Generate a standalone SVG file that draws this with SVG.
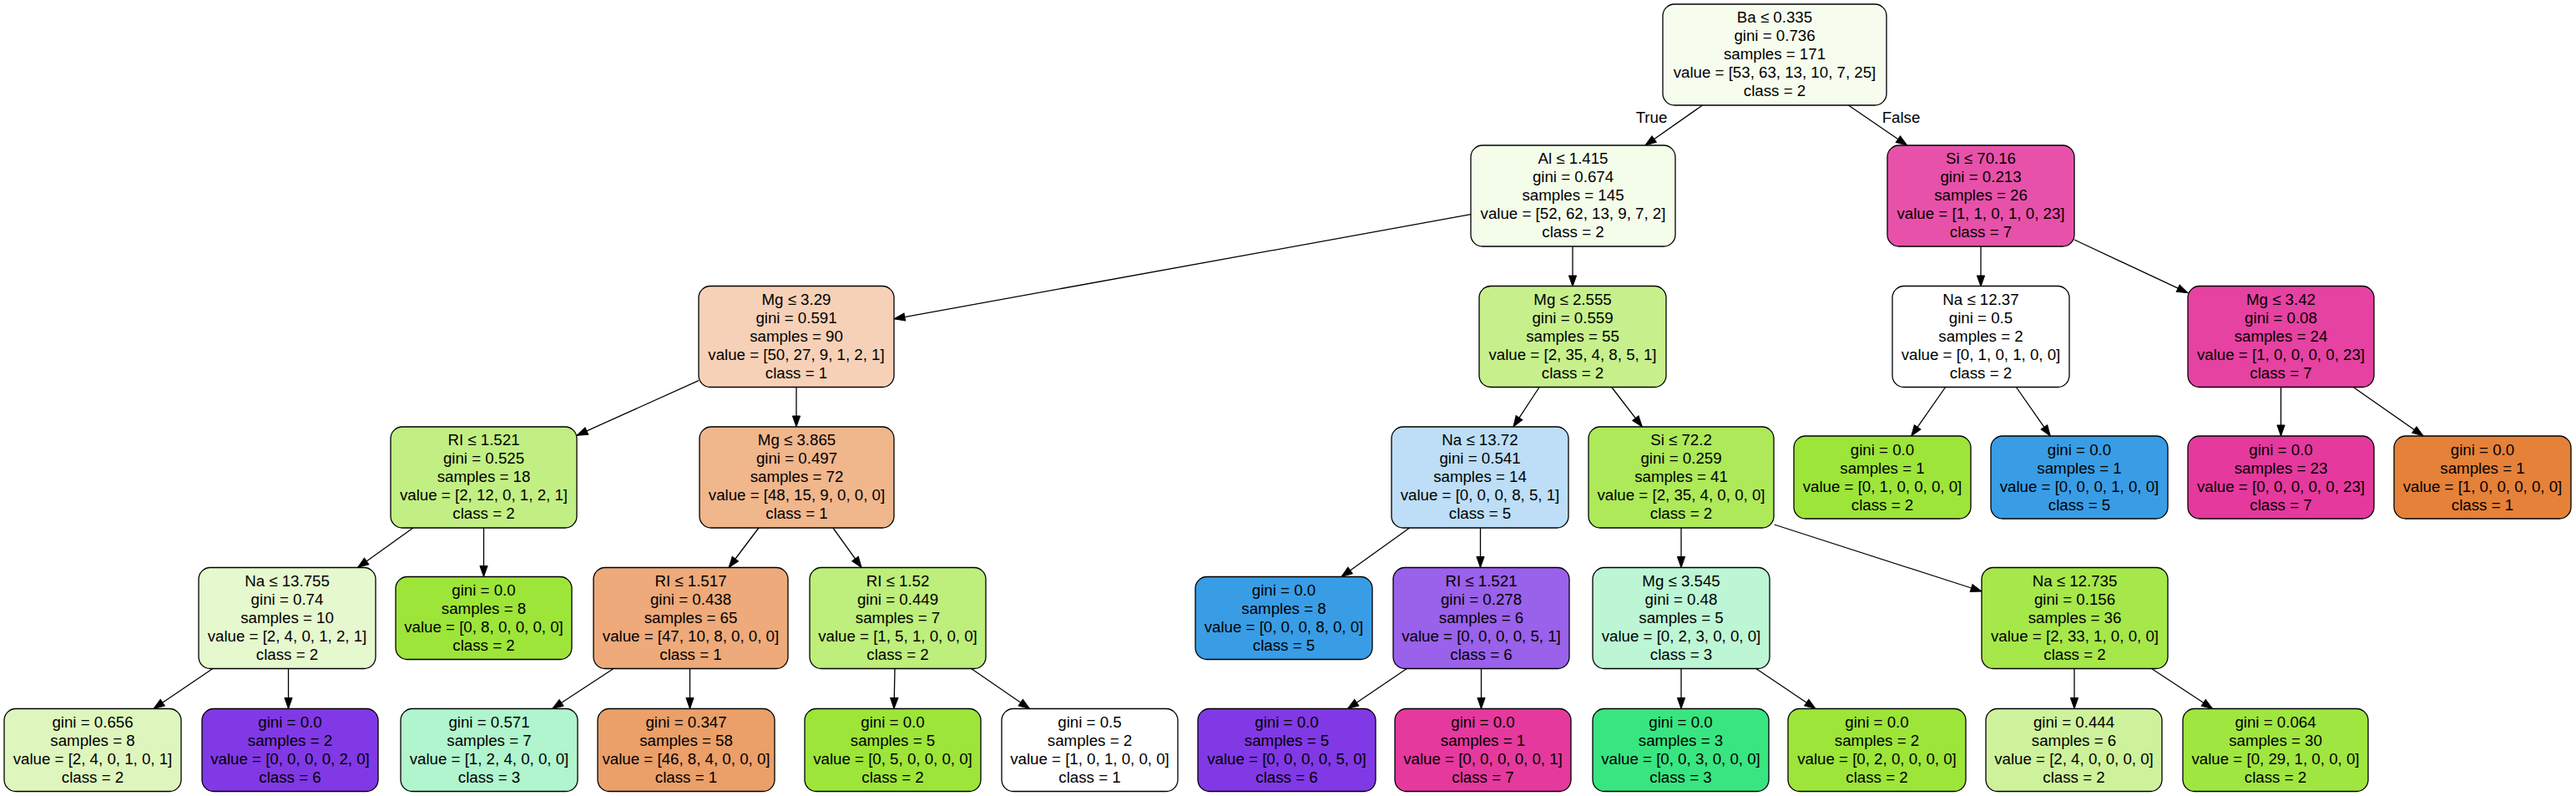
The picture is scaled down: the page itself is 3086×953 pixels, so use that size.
<svg xmlns="http://www.w3.org/2000/svg" width="3086" height="953" viewBox="0 0 3086 953">
<style>
  .n rect { stroke: #000; stroke-width: 1.3; }
  text { font-family: "Liberation Sans", Arial, Helvetica, sans-serif; font-size: 18.7px; fill: #000; text-anchor: middle; }
  .e path { fill: none; stroke: #000; stroke-width: 1.3; }
</style>
<defs>
  <marker id="ah" markerUnits="userSpaceOnUse" markerWidth="16" markerHeight="12" refX="13" refY="4.6" orient="auto" overflow="visible">
    <path d="M0,0 L13,4.6 L0,9.2 z" fill="#000" stroke="#000" stroke-width="1"/>
  </marker>
</defs>
<rect width="3086" height="953" fill="#fff"/>

<g id="edges" class="e">
  <path marker-end="url(#ah)" d="M2039.5,126 L1971,174"/>
  <path marker-end="url(#ah)" d="M2214.4,126 L2284.6,174"/>
  <path marker-end="url(#ah)" d="M1762,256.7 L1071,381.8"/>
  <path marker-end="url(#ah)" d="M1884,295 L1884,343"/>
  <path marker-end="url(#ah)" d="M2373,295 L2373,343"/>
  <path marker-end="url(#ah)" d="M2485,287 L2621,350.7"/>
  <path marker-end="url(#ah)" d="M837,455.6 L691,521.3"/>
  <path marker-end="url(#ah)" d="M954,463.5 L954,511"/>
  <path marker-end="url(#ah)" d="M1844.1,463.5 L1812.9,511"/>
  <path marker-end="url(#ah)" d="M1930.7,463.5 L1967.3,511"/>
  <path marker-end="url(#ah)" d="M2330.6,463.5 L2289.7,522"/>
  <path marker-end="url(#ah)" d="M2415.4,463.5 L2456.3,522"/>
  <path marker-end="url(#ah)" d="M2732.5,463.5 L2732.5,522"/>
  <path marker-end="url(#ah)" d="M2819.2,463.5 L2903,522"/>
  <path marker-end="url(#ah)" d="M494.9,632 L428.6,679.5"/>
  <path marker-end="url(#ah)" d="M579.5,632 L579.5,690.5"/>
  <path marker-end="url(#ah)" d="M908.9,632 L873.1,679.5"/>
  <path marker-end="url(#ah)" d="M997.9,632 L1032.1,679.5"/>
  <path marker-end="url(#ah)" d="M1688.6,632 L1607,690.5"/>
  <path marker-end="url(#ah)" d="M1773.5,632 L1773.5,679.5"/>
  <path marker-end="url(#ah)" d="M2014,632 L2014,679.5"/>
  <path marker-end="url(#ah)" d="M2125.5,628 L2374,708"/>
  <path marker-end="url(#ah)" d="M254.8,800.5 L184,848.5"/>
  <path marker-end="url(#ah)" d="M345.5,800.5 L345.5,848.5"/>
  <path marker-end="url(#ah)" d="M735,800.5 L661.7,848.5"/>
  <path marker-end="url(#ah)" d="M826.5,800.5 L826.5,848.5"/>
  <path marker-end="url(#ah)" d="M1072,800.5 L1071,848.5"/>
  <path marker-end="url(#ah)" d="M1163.6,800.5 L1233.4,848.5"/>
  <path marker-end="url(#ah)" d="M1685.3,800.5 L1614.5,848.5"/>
  <path marker-end="url(#ah)" d="M1774.5,800.5 L1774.5,848.5"/>
  <path marker-end="url(#ah)" d="M2014,800.5 L2014,848.5"/>
  <path marker-end="url(#ah)" d="M2103.8,800.5 L2175,848.5"/>
  <path marker-end="url(#ah)" d="M2485,800.5 L2485,848.5"/>
  <path marker-end="url(#ah)" d="M2577.6,800.5 L2650.6,848.5"/>
  <text x="1978.5" y="147">True</text>
  <text x="2277.5" y="147">False</text>
</g>

<g id="n0" class="n"><rect x="1992" y="5" width="268" height="121" rx="14" fill="#f7fdee"/>
<text x="2126" y="27.1"><tspan x="2126">Ba ≤ 0.335</tspan><tspan x="2126" dy="22">gini = 0.736</tspan><tspan x="2126" dy="22">samples = 171</tspan><tspan x="2126" dy="22">value = [53, 63, 13, 10, 7, 25]</tspan><tspan x="2126" dy="22">class = 2</tspan></text></g>

<g id="n1" class="n"><rect x="1762" y="174" width="245" height="121" rx="14" fill="#f4fcea"/>
<text x="1884.5" y="196.1"><tspan x="1884.5">Al ≤ 1.415</tspan><tspan x="1884.5" dy="22">gini = 0.674</tspan><tspan x="1884.5" dy="22">samples = 145</tspan><tspan x="1884.5" dy="22">value = [52, 62, 13, 9, 7, 2]</tspan><tspan x="1884.5" dy="22">class = 2</tspan></text></g>

<g id="n2" class="n"><rect x="2261" y="174" width="224" height="121" rx="14" fill="#e851a9"/>
<text x="2373" y="196.1"><tspan x="2373">Si ≤ 70.16</tspan><tspan x="2373" dy="22">gini = 0.213</tspan><tspan x="2373" dy="22">samples = 26</tspan><tspan x="2373" dy="22">value = [1, 1, 0, 1, 0, 23]</tspan><tspan x="2373" dy="22">class = 7</tspan></text></g>

<g id="n3" class="n"><rect x="837" y="342.5" width="234" height="121" rx="14" fill="#f6d1b7"/>
<text x="954" y="364.6"><tspan x="954">Mg ≤ 3.29</tspan><tspan x="954" dy="22">gini = 0.591</tspan><tspan x="954" dy="22">samples = 90</tspan><tspan x="954" dy="22">value = [50, 27, 9, 1, 2, 1]</tspan><tspan x="954" dy="22">class = 1</tspan></text></g>

<g id="n4" class="n"><rect x="1772" y="342.5" width="224" height="121" rx="14" fill="#c7f08d"/>
<text x="1884" y="364.6"><tspan x="1884">Mg ≤ 2.555</tspan><tspan x="1884" dy="22">gini = 0.559</tspan><tspan x="1884" dy="22">samples = 55</tspan><tspan x="1884" dy="22">value = [2, 35, 4, 8, 5, 1]</tspan><tspan x="1884" dy="22">class = 2</tspan></text></g>

<g id="n5" class="n"><rect x="2267" y="342.5" width="212" height="121" rx="14" fill="#ffffff"/>
<text x="2373" y="364.6"><tspan x="2373">Na ≤ 12.37</tspan><tspan x="2373" dy="22">gini = 0.5</tspan><tspan x="2373" dy="22">samples = 2</tspan><tspan x="2373" dy="22">value = [0, 1, 0, 1, 0, 0]</tspan><tspan x="2373" dy="22">class = 2</tspan></text></g>

<g id="n6" class="n"><rect x="2621" y="342.5" width="223" height="121" rx="14" fill="#e642a1"/>
<text x="2732.5" y="364.6"><tspan x="2732.5">Mg ≤ 3.42</tspan><tspan x="2732.5" dy="22">gini = 0.08</tspan><tspan x="2732.5" dy="22">samples = 24</tspan><tspan x="2732.5" dy="22">value = [1, 0, 0, 0, 0, 23]</tspan><tspan x="2732.5" dy="22">class = 7</tspan></text></g>

<g id="n7" class="n"><rect x="468" y="511" width="223" height="121" rx="14" fill="#c2ef83"/>
<text x="579.5" y="533.1"><tspan x="579.5">RI ≤ 1.521</tspan><tspan x="579.5" dy="22">gini = 0.525</tspan><tspan x="579.5" dy="22">samples = 18</tspan><tspan x="579.5" dy="22">value = [2, 12, 0, 1, 2, 1]</tspan><tspan x="579.5" dy="22">class = 2</tspan></text></g>

<g id="n8" class="n"><rect x="838" y="511" width="233" height="121" rx="14" fill="#f0b68c"/>
<text x="954.5" y="533.1"><tspan x="954.5">Mg ≤ 3.865</tspan><tspan x="954.5" dy="22">gini = 0.497</tspan><tspan x="954.5" dy="22">samples = 72</tspan><tspan x="954.5" dy="22">value = [48, 15, 9, 0, 0, 0]</tspan><tspan x="954.5" dy="22">class = 1</tspan></text></g>

<g id="n9" class="n"><rect x="1667" y="511" width="212" height="121" rx="14" fill="#bddef6"/>
<text x="1773" y="533.1"><tspan x="1773">Na ≤ 13.72</tspan><tspan x="1773" dy="22">gini = 0.541</tspan><tspan x="1773" dy="22">samples = 14</tspan><tspan x="1773" dy="22">value = [0, 0, 0, 8, 5, 1]</tspan><tspan x="1773" dy="22">class = 5</tspan></text></g>

<g id="n10" class="n"><rect x="1903" y="511" width="222" height="121" rx="14" fill="#ade959"/>
<text x="2014" y="533.1"><tspan x="2014">Si ≤ 72.2</tspan><tspan x="2014" dy="22">gini = 0.259</tspan><tspan x="2014" dy="22">samples = 41</tspan><tspan x="2014" dy="22">value = [2, 35, 4, 0, 0, 0]</tspan><tspan x="2014" dy="22">class = 2</tspan></text></g>

<g id="n11" class="n"><rect x="2149" y="522" width="212" height="99" rx="14" fill="#9de539"/>
<text x="2255" y="544.5"><tspan x="2255">gini = 0.0</tspan><tspan x="2255" dy="22">samples = 1</tspan><tspan x="2255" dy="22">value = [0, 1, 0, 0, 0, 0]</tspan><tspan x="2255" dy="22">class = 2</tspan></text></g>

<g id="n12" class="n"><rect x="2385" y="522" width="212" height="99" rx="14" fill="#399de5"/>
<text x="2491" y="544.5"><tspan x="2491">gini = 0.0</tspan><tspan x="2491" dy="22">samples = 1</tspan><tspan x="2491" dy="22">value = [0, 0, 0, 1, 0, 0]</tspan><tspan x="2491" dy="22">class = 5</tspan></text></g>

<g id="n13" class="n"><rect x="2621" y="522" width="223" height="99" rx="14" fill="#e5399d"/>
<text x="2732.5" y="544.5"><tspan x="2732.5">gini = 0.0</tspan><tspan x="2732.5" dy="22">samples = 23</tspan><tspan x="2732.5" dy="22">value = [0, 0, 0, 0, 0, 23]</tspan><tspan x="2732.5" dy="22">class = 7</tspan></text></g>

<g id="n14" class="n"><rect x="2868" y="522" width="212" height="99" rx="14" fill="#e58139"/>
<text x="2974" y="544.5"><tspan x="2974">gini = 0.0</tspan><tspan x="2974" dy="22">samples = 1</tspan><tspan x="2974" dy="22">value = [1, 0, 0, 0, 0, 0]</tspan><tspan x="2974" dy="22">class = 1</tspan></text></g>

<g id="n15" class="n"><rect x="238" y="679.5" width="212" height="121" rx="14" fill="#e6f8ce"/>
<text x="344" y="701.6"><tspan x="344">Na ≤ 13.755</tspan><tspan x="344" dy="22">gini = 0.74</tspan><tspan x="344" dy="22">samples = 10</tspan><tspan x="344" dy="22">value = [2, 4, 0, 1, 2, 1]</tspan><tspan x="344" dy="22">class = 2</tspan></text></g>

<g id="n16" class="n"><rect x="474" y="690.5" width="211" height="99" rx="14" fill="#9de539"/>
<text x="579.5" y="713"><tspan x="579.5">gini = 0.0</tspan><tspan x="579.5" dy="22">samples = 8</tspan><tspan x="579.5" dy="22">value = [0, 8, 0, 0, 0, 0]</tspan><tspan x="579.5" dy="22">class = 2</tspan></text></g>

<g id="n17" class="n"><rect x="711" y="679.5" width="233" height="121" rx="14" fill="#eeaa7a"/>
<text x="827.5" y="701.6"><tspan x="827.5">RI ≤ 1.517</tspan><tspan x="827.5" dy="22">gini = 0.438</tspan><tspan x="827.5" dy="22">samples = 65</tspan><tspan x="827.5" dy="22">value = [47, 10, 8, 0, 0, 0]</tspan><tspan x="827.5" dy="22">class = 1</tspan></text></g>

<g id="n18" class="n"><rect x="970" y="679.5" width="211" height="121" rx="14" fill="#beee7b"/>
<text x="1075.5" y="701.6"><tspan x="1075.5">RI ≤ 1.52</tspan><tspan x="1075.5" dy="22">gini = 0.449</tspan><tspan x="1075.5" dy="22">samples = 7</tspan><tspan x="1075.5" dy="22">value = [1, 5, 1, 0, 0, 0]</tspan><tspan x="1075.5" dy="22">class = 2</tspan></text></g>

<g id="n19" class="n"><rect x="1432" y="690.5" width="212" height="99" rx="14" fill="#399de5"/>
<text x="1538" y="713"><tspan x="1538">gini = 0.0</tspan><tspan x="1538" dy="22">samples = 8</tspan><tspan x="1538" dy="22">value = [0, 0, 0, 8, 0, 0]</tspan><tspan x="1538" dy="22">class = 5</tspan></text></g>

<g id="n20" class="n"><rect x="1669" y="679.5" width="211" height="121" rx="14" fill="#9a61ea"/>
<text x="1774.5" y="701.6"><tspan x="1774.5">RI ≤ 1.521</tspan><tspan x="1774.5" dy="22">gini = 0.278</tspan><tspan x="1774.5" dy="22">samples = 6</tspan><tspan x="1774.5" dy="22">value = [0, 0, 0, 0, 5, 1]</tspan><tspan x="1774.5" dy="22">class = 6</tspan></text></g>

<g id="n21" class="n"><rect x="1908" y="679.5" width="212" height="121" rx="14" fill="#bdf6d5"/>
<text x="2014" y="701.6"><tspan x="2014">Mg ≤ 3.545</tspan><tspan x="2014" dy="22">gini = 0.48</tspan><tspan x="2014" dy="22">samples = 5</tspan><tspan x="2014" dy="22">value = [0, 2, 3, 0, 0, 0]</tspan><tspan x="2014" dy="22">class = 3</tspan></text></g>

<g id="n22" class="n"><rect x="2374" y="679.5" width="223" height="121" rx="14" fill="#a6e74a"/>
<text x="2485.5" y="701.6"><tspan x="2485.5">Na ≤ 12.735</tspan><tspan x="2485.5" dy="22">gini = 0.156</tspan><tspan x="2485.5" dy="22">samples = 36</tspan><tspan x="2485.5" dy="22">value = [2, 33, 1, 0, 0, 0]</tspan><tspan x="2485.5" dy="22">class = 2</tspan></text></g>

<g id="n23" class="n"><rect x="5" y="848.5" width="212" height="99" rx="14" fill="#def6bd"/>
<text x="111" y="871"><tspan x="111">gini = 0.656</tspan><tspan x="111" dy="22">samples = 8</tspan><tspan x="111" dy="22">value = [2, 4, 0, 1, 0, 1]</tspan><tspan x="111" dy="22">class = 2</tspan></text></g>

<g id="n24" class="n"><rect x="242" y="848.5" width="211" height="99" rx="14" fill="#8139e5"/>
<text x="347.5" y="871"><tspan x="347.5">gini = 0.0</tspan><tspan x="347.5" dy="22">samples = 2</tspan><tspan x="347.5" dy="22">value = [0, 0, 0, 0, 2, 0]</tspan><tspan x="347.5" dy="22">class = 6</tspan></text></g>

<g id="n25" class="n"><rect x="480" y="848.5" width="212" height="99" rx="14" fill="#b0f5cd"/>
<text x="586" y="871"><tspan x="586">gini = 0.571</tspan><tspan x="586" dy="22">samples = 7</tspan><tspan x="586" dy="22">value = [1, 2, 4, 0, 0, 0]</tspan><tspan x="586" dy="22">class = 3</tspan></text></g>

<g id="n26" class="n"><rect x="716" y="848.5" width="212" height="99" rx="14" fill="#eb9f69"/>
<text x="822" y="871"><tspan x="822">gini = 0.347</tspan><tspan x="822" dy="22">samples = 58</tspan><tspan x="822" dy="22">value = [46, 8, 4, 0, 0, 0]</tspan><tspan x="822" dy="22">class = 1</tspan></text></g>

<g id="n27" class="n"><rect x="964" y="848.5" width="211" height="99" rx="14" fill="#9de539"/>
<text x="1069.5" y="871"><tspan x="1069.5">gini = 0.0</tspan><tspan x="1069.5" dy="22">samples = 5</tspan><tspan x="1069.5" dy="22">value = [0, 5, 0, 0, 0, 0]</tspan><tspan x="1069.5" dy="22">class = 2</tspan></text></g>

<g id="n28" class="n"><rect x="1200" y="848.5" width="211" height="99" rx="14" fill="#ffffff"/>
<text x="1305.5" y="871"><tspan x="1305.5">gini = 0.5</tspan><tspan x="1305.5" dy="22">samples = 2</tspan><tspan x="1305.5" dy="22">value = [1, 0, 1, 0, 0, 0]</tspan><tspan x="1305.5" dy="22">class = 1</tspan></text></g>

<g id="n29" class="n"><rect x="1435" y="848.5" width="213" height="99" rx="14" fill="#8139e5"/>
<text x="1541.5" y="871"><tspan x="1541.5">gini = 0.0</tspan><tspan x="1541.5" dy="22">samples = 5</tspan><tspan x="1541.5" dy="22">value = [0, 0, 0, 0, 5, 0]</tspan><tspan x="1541.5" dy="22">class = 6</tspan></text></g>

<g id="n30" class="n"><rect x="1671" y="848.5" width="211" height="99" rx="14" fill="#e5399d"/>
<text x="1776.5" y="871"><tspan x="1776.5">gini = 0.0</tspan><tspan x="1776.5" dy="22">samples = 1</tspan><tspan x="1776.5" dy="22">value = [0, 0, 0, 0, 0, 1]</tspan><tspan x="1776.5" dy="22">class = 7</tspan></text></g>

<g id="n31" class="n"><rect x="1908" y="848.5" width="211" height="99" rx="14" fill="#39e581"/>
<text x="2013.5" y="871"><tspan x="2013.5">gini = 0.0</tspan><tspan x="2013.5" dy="22">samples = 3</tspan><tspan x="2013.5" dy="22">value = [0, 0, 3, 0, 0, 0]</tspan><tspan x="2013.5" dy="22">class = 3</tspan></text></g>

<g id="n32" class="n"><rect x="2142" y="848.5" width="213" height="99" rx="14" fill="#9de539"/>
<text x="2248.5" y="871"><tspan x="2248.5">gini = 0.0</tspan><tspan x="2248.5" dy="22">samples = 2</tspan><tspan x="2248.5" dy="22">value = [0, 2, 0, 0, 0, 0]</tspan><tspan x="2248.5" dy="22">class = 2</tspan></text></g>

<g id="n33" class="n"><rect x="2379" y="848.5" width="211" height="99" rx="14" fill="#cef29c"/>
<text x="2484.5" y="871"><tspan x="2484.5">gini = 0.444</tspan><tspan x="2484.5" dy="22">samples = 6</tspan><tspan x="2484.5" dy="22">value = [2, 4, 0, 0, 0, 0]</tspan><tspan x="2484.5" dy="22">class = 2</tspan></text></g>

<g id="n34" class="n"><rect x="2615" y="848.5" width="222" height="99" rx="14" fill="#a0e640"/>
<text x="2726" y="871"><tspan x="2726">gini = 0.064</tspan><tspan x="2726" dy="22">samples = 30</tspan><tspan x="2726" dy="22">value = [0, 29, 1, 0, 0, 0]</tspan><tspan x="2726" dy="22">class = 2</tspan></text></g>
</svg>
